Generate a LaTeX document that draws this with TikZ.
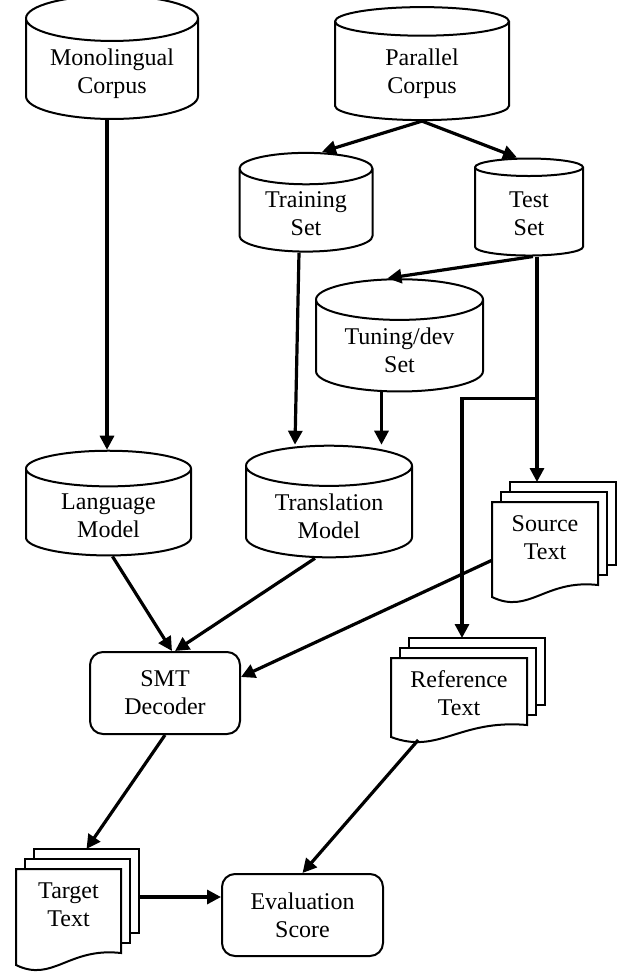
\documentclass[tikz,border=0pt]{standalone}
\usepackage{fontspec}
\setmainfont{Liberation Serif}
\usetikzlibrary{arrows.meta,shapes.geometric}

% three stacked sheets: name, x, y (front top left), width, left height, text
\newcommand{\docstack}[6]{%
  \foreach \k in {2,1}
    \filldraw[sheet] (#2+9*\k,#3-10*\k) rectangle ++(#4,#5-12);
  \filldraw[sheet] (#2,#3) -- ++(#4,0) -- ++(0,#5-12)
    .. controls (#2+0.5*#4,#3+#5-18) and (#2+0.35*#4,#3+#5+18) .. (#2,#3+#5) -- cycle;
  \node[doctext,minimum width=#4*0.5pt] (#1) at (#2+0.5*#4,#3) {#6};
  \coordinate (#1-back) at (#2+18+0.5*#4,#3-20);
  \coordinate (#1-side) at (#2+18+#4,#3+0.5*#5-20);
  \coordinate (#1-foot) at (#2+0.2*#4,#3+#5+3);
}

\begin{document}
\begin{tikzpicture}[x=0.5pt, y=-0.5pt, >={Triangle[length=7pt,width=7pt]},
    every node/.append style={font=\fontsize{12}{14}\selectfont},
    db/.style={cylinder, shape border rotate=90, draw, fill=white, aspect=0.33,
      align=center, line width=1pt},
    box/.style={draw, rounded corners=6.5pt, align=center, line width=1pt},
    sheet/.style={draw, fill=white, line width=1pt},
    doctext/.style={anchor=north, minimum height=35pt, align=center, inner sep=1pt},
    arr/.style={->, line width=1.6pt}]
    \useasboundingbox (0,0) rectangle (621,975);

    \node[db, minimum width=86pt, minimum height=57.5pt] (mono) at (112,73.5) {Monolingual\\Corpus};
    \node[db, minimum width=87pt, minimum height=56.5pt] (para) at (422,74) {Parallel\\Corpus};
    \node[db, minimum width=66.5pt, minimum height=48.5pt] (train) at (306,214) {Training\\Set};
    \node[db, minimum width=54pt, minimum height=48.5pt] (test) at (529,214) {Test\\Set};
    \node[db, minimum width=83.5pt, minimum height=52pt] (tune) at (399.5,350) {Tuning/dev\\Set};
    \node[db, minimum width=82.5pt, minimum height=51pt] (lm) at (108.5,516) {Language\\Model};
    \node[db, minimum width=83pt, minimum height=51pt] (tm) at (329,516) {Translation\\Model};
    \node[box, minimum width=75pt, minimum height=41pt] (smt) at (165,693) {SMT\\Decoder};
    \node[box, minimum width=80.5pt, minimum height=41pt] (eval) at (302.5,915) {Evaluation\\Score};

    \docstack{src}{492}{502}{106}{95}{Source\\Text}
    \docstack{ref}{391}{658}{136}{79}{Reference\\Text}
    \docstack{tgt}{16}{869}{105}{96}{Target\\Text}

    \draw[arr] ([xshift=-2.5pt]mono.south) -- ([xshift=-2.5pt]mono.south |- lm.north);
    \draw[arr] (para.south) -- ([xshift=8pt]train.north);
    \draw[arr] (para.south) -- ([xshift=-6pt]test.north);
    \draw[arr] ([xshift=-3.5pt]train.south) -- ([xshift=-17pt]tm.north);
    \draw[arr] ([xshift=2pt]test.south) -- ([xshift=-6pt]tune.north);
    \draw[arr] ([xshift=4pt]test.south) -- ([xshift=4pt]test.south |- src-back);
    \draw[arr] ([xshift=4pt,yshift=-71pt]test.south) -| ([xshift=-7.5pt]ref-back);
    \draw[arr] ([xshift=-9pt]tune.south) -- ([xshift=-9pt]tune.south |- tm.north);
    \draw[arr] ([xshift=2pt]lm.south) -- ([xshift=3.5pt]smt.north);
    \draw[arr] ([xshift=-7pt]tm.south) -- ([xshift=5pt]smt.north);
    \draw[arr] ([yshift=-11.5pt]src.west) -- ([yshift=8pt]smt.east);
    \draw[arr] (smt.south) -- (tgt-back);
    \draw[arr] (ref-foot) -- (eval.north);
    \draw[arr] (tgt-side) -- (tgt-side -| eval.west);
\end{tikzpicture}
\end{document}
